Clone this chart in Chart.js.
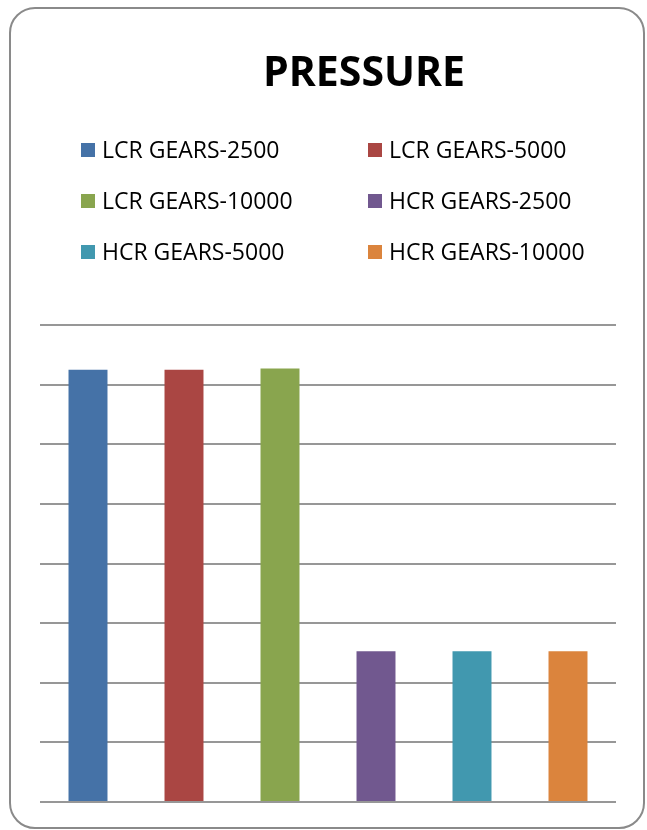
<!DOCTYPE html>
<html>
<head>
<meta charset="utf-8">
<script src="https://cdn.jsdelivr.net/npm/chart.js@4.4.1/dist/chart.umd.min.js"></script>
<style>
    html, body { margin: 0; padding: 0; background: #fff; }
    .frame {
        position: absolute;
        left: 9px; top: 7px;
        width: 632px; height: 818px;
        border: 2px solid #8a8a8a;
        border-radius: 26px;
    }
    #pressureChart { position: absolute; left: 0; top: 0; }
</style>
</head>
<body>
<div class="frame"></div>
<canvas id="pressureChart" width="647" height="830"></canvas>
<script>
const chartTitle = 'PRESSURE';
const categories = ['LCR GEARS-2500', 'LCR GEARS-5000', 'LCR GEARS-10000', 'HCR GEARS-2500', 'HCR GEARS-5000', 'HCR GEARS-10000'];
const pressure = [7.25, 7.25, 7.27, 2.53, 2.53, 2.53];
const barColors = ['#4572A7', '#AA4643', '#89A54E', '#71588F', '#4198AF', '#DB843D'];
const yMax = 8;
const yStep = 1;

// title sits right of centre and the legend is a fixed two-column grid,
// so both are drawn here rather than by the built-in plugins
const headerBlock = {
    id: 'headerBlock',
    afterDraw(chart) {
        const ctx = chart.ctx;
        const labels = chart.data.labels;
        const colors = chart.data.datasets[0].backgroundColor;
        const colX = [81, 368];
        const rowY = [150, 201, 252];
        const box = 14;
        ctx.save();

        ctx.fillStyle = '#000';
        ctx.font = 'bold 41px "Open Sans"';
        ctx.textAlign = 'center';
        ctx.textBaseline = 'middle';
        ctx.fillText(chartTitle, 364, 74);

        ctx.font = '23px "Open Sans"';
        ctx.textAlign = 'left';
        labels.forEach((label, i) => {
            const x = colX[i % 2];
            const y = rowY[Math.floor(i / 2)];
            ctx.fillStyle = colors[i];
            ctx.fillRect(x, y - box / 2, box, box);
            ctx.fillStyle = '#000';
            ctx.fillText(label, x + 21, y + 1);
        });
        ctx.restore();
    }
};

const ctx = document.getElementById('pressureChart').getContext('2d');

const config = {
    type: 'bar',
    data: {
        labels: categories,
        datasets: [{
            label: chartTitle,
            data: pressure,
            backgroundColor: barColors,
            borderWidth: 0,
            categoryPercentage: 1,
            barPercentage: 0.406
        }]
    },
    options: {
        responsive: false,
        animation: false,
        layout: {
            padding: { left: 40, right: 31, top: 325, bottom: 28 }
        },
        plugins: {
            legend: { display: false },
            tooltip: { enabled: false },
            title: { display: false }
        },
        scales: {
            x: {
                display: false
            },
            y: {
                min: 0,
                max: yMax,
                ticks: { display: false, stepSize: yStep },
                border: { display: false },
                grid: {
                    color: '#979797',
                    lineWidth: 2,
                    drawTicks: false
                }
            }
        }
    },
    plugins: [headerBlock]
};

new Chart(ctx, config);
</script>
</body>
</html>
